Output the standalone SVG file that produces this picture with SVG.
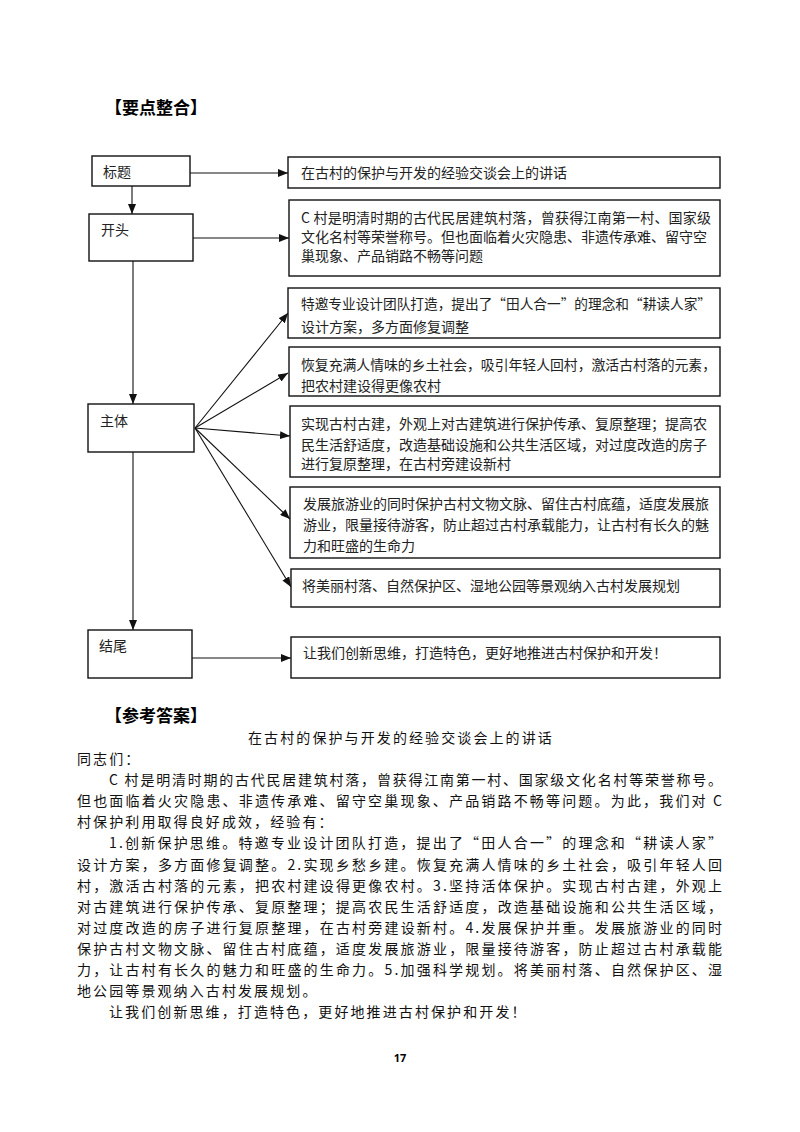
<svg xmlns="http://www.w3.org/2000/svg" width="800" height="1132" viewBox="0 0 800 1132">
<style>
text{font-family:"Noto Sans CJK SC","Noto Sans",sans-serif;fill:#111}
.hd{font-size:17px;font-weight:bold;fill:#000}
.lb{font-size:14px;fill:#222}
.bx{font-size:14px;fill:#222}
.body{font-size:14px;fill:#111}
.sp{letter-spacing:2.1px}
.box{fill:#fff;stroke:#111;stroke-width:1.4}
.con{stroke:#111;stroke-width:1.1;fill:none}
.pg{font-family:"Noto Sans","Liberation Sans",sans-serif;font-size:11px;font-weight:bold;fill:#000}
</style>
<defs>
<marker id="ah" markerUnits="userSpaceOnUse" markerWidth="10" markerHeight="8" refX="10" refY="4" orient="auto">
<path d="M0,0 L10,4 L0,8 z" fill="#111"/>
</marker>
</defs>
<rect width="800" height="1132" fill="#fff"/>
<text class="hd" x="105" y="114">【要点整合】</text>

<g id="connectors">
<line class="con" x1="190" y1="173" x2="288" y2="173" marker-end="url(#ah)"/>
<line class="con" x1="132" y1="186" x2="132" y2="214" marker-end="url(#ah)"/>
<line class="con" x1="193" y1="238" x2="289" y2="238" marker-end="url(#ah)"/>
<line class="con" x1="133" y1="261" x2="133" y2="404" marker-end="url(#ah)"/>
<line class="con" x1="195" y1="428" x2="288" y2="313" marker-end="url(#ah)"/>
<line class="con" x1="195" y1="428" x2="288" y2="373" marker-end="url(#ah)"/>
<line class="con" x1="195" y1="428" x2="290" y2="436" marker-end="url(#ah)"/>
<line class="con" x1="195" y1="428" x2="290" y2="519" marker-end="url(#ah)"/>
<line class="con" x1="195" y1="428" x2="291" y2="587" marker-end="url(#ah)"/>
<line class="con" x1="133" y1="452" x2="133" y2="630" marker-end="url(#ah)"/>
<line class="con" x1="192" y1="658" x2="291" y2="658" marker-end="url(#ah)"/>
</g>

<g id="n-biaoti"><rect class="box" x="92" y="156" width="98" height="30"/><text class="lb" x="103" y="177">标题</text></g>
<g id="n-kaitou"><rect class="box" x="89" y="214" width="104" height="47"/><text class="lb" x="101" y="235">开头</text></g>
<g id="n-zhuti"><rect class="box" x="88" y="404" width="106" height="48"/><text class="lb" x="100" y="426">主体</text></g>
<g id="n-jiewei"><rect class="box" x="88" y="630" width="104" height="48"/><text class="lb" x="99" y="651">结尾</text></g>

<g id="b1"><rect class="box" x="288" y="157" width="432" height="31"/><text class="bx" x="301" y="178">在古村的保护与开发的经验交谈会上的讲话</text></g>
<g id="b2"><rect class="box" x="289" y="200" width="431" height="76"/>
<text class="bx" x="301" y="222.5" textLength="410" lengthAdjust="spacing">C 村是明清时期的古代民居建筑村落，曾获得江南第一村、国家级</text>
<text class="bx" x="301" y="242">文化名村等荣誉称号。但也面临着火灾隐患、非遗传承难、留守空</text>
<text class="bx" x="301" y="261">巢现象、产品销路不畅等问题</text></g>
<g id="b3"><rect class="box" x="288" y="288" width="432" height="50"/>
<text class="bx" x="301" y="309" textLength="410" lengthAdjust="spacingAndGlyphs">特邀专业设计团队打造，提出了“田人合一”的理念和“耕读人家”</text>
<text class="bx" x="301" y="332">设计方案，多方面修复调整</text></g>
<g id="b4"><rect class="box" x="289" y="347" width="431" height="49"/>
<text class="bx" x="301" y="370" textLength="415" lengthAdjust="spacingAndGlyphs">恢复充满人情味的乡土社会，吸引年轻人回村，激活古村落的元素，</text>
<text class="bx" x="301" y="391">把农村建设得更像农村</text></g>
<g id="b5"><rect class="box" x="290" y="406" width="430" height="71"/>
<text class="bx" x="301" y="429">实现古村古建，外观上对古建筑进行保护传承、复原整理；提高农</text>
<text class="bx" x="301" y="450">民生活舒适度，改造基础设施和公共生活区域，对过度改造的房子</text>
<text class="bx" x="301" y="469">进行复原整理，在古村旁建设新村</text></g>
<g id="b6"><rect class="box" x="290" y="487" width="430" height="71"/>
<text class="bx" x="303" y="508.5">发展旅游业的同时保护古村文物文脉、留住古村底蕴，适度发展旅</text>
<text class="bx" x="303" y="530">游业，限量接待游客，防止超过古村承载能力，让古村有长久的魅</text>
<text class="bx" x="303" y="551">力和旺盛的生命力</text></g>
<g id="b7"><rect class="box" x="291" y="569" width="429" height="38"/>
<text class="bx" x="302" y="591">将美丽村落、自然保护区、湿地公园等景观纳入古村发展规划</text></g>
<g id="b8"><rect class="box" x="291" y="637" width="429" height="41"/>
<text class="bx" x="303" y="658">让我们创新思维，打造特色，更好地推进古村保护和开发！</text></g>

<text class="hd" x="105" y="722">【参考答案】</text>
<text class="body sp" x="248" y="743">在古村的保护与开发的经验交谈会上的讲话</text>
<text class="body sp" x="77" y="764">同志们：</text>
<text class="body" x="109" y="785" textLength="613" lengthAdjust="spacing">C 村是明清时期的古代民居建筑村落，曾获得江南第一村、国家级文化名村等荣誉称号。</text>
<text class="body" x="77" y="806" textLength="645" lengthAdjust="spacing">但也面临着火灾隐患、非遗传承难、留守空巢现象、产品销路不畅等问题。为此，我们对 C</text>
<text class="body sp" x="77" y="827">村保护利用取得良好成效，经验有：</text>
<text class="body" x="109" y="848" textLength="613" lengthAdjust="spacing">1.创新保护思维。特邀专业设计团队打造，提出了“田人合一”的理念和“耕读人家”</text>
<text class="body" x="77" y="869.5" textLength="645" lengthAdjust="spacing">设计方案，多方面修复调整。2.实现乡愁乡建。恢复充满人情味的乡土社会，吸引年轻人回</text>
<text class="body" x="77" y="890.5" textLength="645" lengthAdjust="spacing">村，激活古村落的元素，把农村建设得更像农村。3.坚持活体保护。实现古村古建，外观上</text>
<text class="body" x="77" y="911.5" textLength="645" lengthAdjust="spacing">对古建筑进行保护传承、复原整理；提高农民生活舒适度，改造基础设施和公共生活区域，</text>
<text class="body" x="77" y="932.5" textLength="645" lengthAdjust="spacing">对过度改造的房子进行复原整理，在古村旁建设新村。4.发展保护并重。发展旅游业的同时</text>
<text class="body" x="77" y="954" textLength="645" lengthAdjust="spacing">保护古村文物文脉、留住古村底蕴，适度发展旅游业，限量接待游客，防止超过古村承载能</text>
<text class="body" x="77" y="975" textLength="645" lengthAdjust="spacing">力，让古村有长久的魅力和旺盛的生命力。5.加强科学规划。将美丽村落、自然保护区、湿</text>
<text class="body sp" x="77" y="996">地公园等景观纳入古村发展规划。</text>
<text class="body sp" x="109" y="1017">让我们创新思维，打造特色，更好地推进古村保护和开发！</text>
<text class="pg" x="400" y="1062" text-anchor="middle">17</text>
</svg>
